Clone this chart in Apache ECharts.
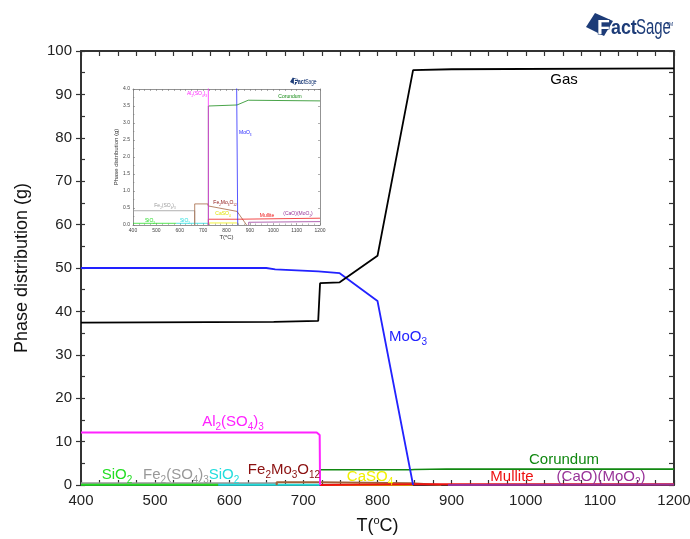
<!DOCTYPE html>
<html><head><meta charset="utf-8">
<script src="https://cdn.jsdelivr.net/npm/echarts@6/dist/echarts.min.js"></script>
<style>html,body{margin:0;padding:0;background:#fff}#c{width:690px;height:539px}</style>
</head><body><div id="c"></div>
<script>
// ---- data (T in °C, phase amount in g) ----
const xTickLabels = [400, 500, 600, 700, 800, 900, 1000, 1100, 1200];
const yTickLabels = [0, 10, 20, 30, 40, 50, 60, 70, 80, 90, 100];
const insetYTickLabels = [0.0, 0.5, 1.0, 1.5, 2.0, 2.5, 3.0, 3.5, 4.0];

const gas       = [[400,37.4],[660,37.6],[720,37.8],[722.5,46.5],[749,46.7],[800,52.8],[848,95.6],[900,95.8],[1200,96.0]];
const moo3      = [[400,50.0],[650,50.0],[651,49.7],[662,49.7],[663,49.3],[720,49.2],[749,48.8],[800,42.4],[848,0]];
const al2so43   = [[400,12.1],[718,12.1],[722,11.5],[722.5,0]];
const corundum  = [[722.5,0],[722.5,3.5],[845,3.53],[850,3.56],[893,3.67],[1200,3.65]];
const fe2so43   = [[400,0.42],[664,0.42],[664,0]];
const fe2mo3o12 = [[664,0],[664,0.62],[720,0.62],[722,0.56],[845,0.4],[886,0]];
const sio2a     = [[400,0.05],[585,0.05]];
const sio2b     = [[585,0.05],[720,0.05],[722,0]];
const caso4     = [[722.5,0],[722.5,0.06],[848,0.06],[848,0]];
const mullite   = [[722.5,0],[722.5,0.17],[850,0.17],[1200,0.2]];
const caomoo2   = [[895,0],[895,0.08],[1200,0.1]];

const FONT = 'Liberation Sans, Arial, sans-serif';
const phases = [
  {name:'Fe2(SO4)3', data:fe2so43, color:'#999999', w:2},
  {name:'SiO2 a', data:sio2a, color:'#22dd22', w:2},
  {name:'SiO2 b', data:sio2b, color:'#22dddd', w:2},
  {name:'Fe2Mo3O12', data:fe2mo3o12, color:'#a0603a', w:2},
  {name:'CaSO4', data:caso4, color:'#f0f000', w:2},
  {name:'Mullite', data:mullite, color:'#ee1111', w:2},
  {name:'(CaO)(MoO2)', data:caomoo2, color:'#993399', w:2},
  {name:'Corundum', data:corundum, color:'#118811', w:1.6},
  {name:'Al2(SO4)3', data:al2so43, color:'#ff22ff', w:2},
  {name:'MoO3', data:moo3, color:'#2222ff', w:1.8},
  {name:'Gas', data:gas, color:'#000000', w:1.8}
];

const series = [];
phases.forEach(p => {
  series.push({type:'line', name:p.name, data:p.data, xAxisIndex:0, yAxisIndex:0, symbol:'none',
    lineStyle:{color:p.color, width:p.w}, silent:true, animation:false, z:3});
  series.push({type:'line', name:p.name+' inset', data:p.data, xAxisIndex:2, yAxisIndex:3, symbol:'none',
    lineStyle:{color:p.color, width:0.9, opacity:0.85}, silent:true, animation:false, z:3, clip:true});
});

const AX = '#333';
function richLabel(x, y, text, color, size, align) {
  const s = size;
  return {type:'text', x:x, y:y, z:20, silent:true,
    style:{text:text, fill:color, align:align||'center', verticalAlign:'middle',
      rich:{
        n:{fontSize:s, fontFamily:FONT, fill:color, lineHeight:Math.round(s*1.3)},
        s:{fontSize:Math.round(s*0.65), fontFamily:FONT, fill:color, lineHeight:Math.round(s*0.65), verticalAlign:'bottom'}
      }}};
}
function logo(x, y, sc) {
  const navy = '#1d3c78';
  return {type:'group', x:x, y:y, scaleX:sc, scaleY:sc, silent:true, z:20, children:[
    {type:'polygon', shape:{points:[[0,16],[9,2],[27,10],[18,25]]}, style:{fill:navy}},
    {type:'text', x:11, y:28, style:{text:'F', fill:'#ffffff', font:'bold 21px '+FONT, align:'left', verticalAlign:'bottom', stroke:navy, lineWidth:1.2}},
    {type:'text', x:25, y:28, scaleX:0.85, style:{text:'act', fill:navy, font:'bold 21px '+FONT, align:'left', verticalAlign:'bottom'}},
    {type:'text', x:50, y:28, scaleX:0.68, style:{text:'Sage', fill:navy, font:'22px '+FONT, align:'left', verticalAlign:'bottom'}},
    {type:'text', x:80, y:14, style:{text:'TM', fill:navy, font:'5px '+FONT, align:'left', verticalAlign:'middle'}}
  ]};
}

const graphic = [
  logo(586, 11, 1),
  logo(290, 77, 0.31),
  richLabel(564, 80, '{n|Gas}', '#000', 15),
  richLabel(389, 337, '{n|MoO}{s|3}', '#2222ff', 15, 'left'),
  richLabel(233, 422, '{n|Al}{s|2}{n|(SO}{s|4}{n|)}{s|3}', '#ff22ff', 15),
  richLabel(564, 460, '{n|Corundum}', '#118811', 15),
  richLabel(117, 475, '{n|SiO}{s|2}', '#22dd22', 15),
  richLabel(176, 475, '{n|Fe}{s|2}{n|(SO}{s|4}{n|)}{s|3}', '#999999', 15),
  richLabel(224, 475, '{n|SiO}{s|2}', '#22dddd', 15),
  richLabel(284, 470, '{n|Fe}{s|2}{n|Mo}{s|3}{n|O}{s|12}', '#8b1010', 15),
  richLabel(370, 477, '{n|CaSO}{s|4}', '#f0f000', 15),
  richLabel(512, 477, '{n|Mullite}', '#ee1111', 15),
  richLabel(601, 477, '{n|(CaO)(MoO}{s|2}{n|)}', '#993399', 15),
  // inset labels
  richLabel(207, 94, '{n|Al}{s|2}{n|(SO}{s|4}{n|)}{s|3}', '#ff22ff', 5, 'right'),
  richLabel(290, 97, '{n|Corundum}', '#118811', 5),
  richLabel(239, 133, '{n|MoO}{s|3}', '#2222ff', 5, 'left'),
  richLabel(165, 206, '{n|Fe}{s|2}{n|(SO}{s|4}{n|)}{s|3}', '#999999', 5),
  richLabel(225, 203, '{n|Fe}{s|2}{n|Mo}{s|3}{n|O}{s|12}', '#8b1010', 5),
  richLabel(223, 214, '{n|CaSO}{s|4}', '#e0e000', 5),
  richLabel(267, 216, '{n|Mullite}', '#ee1111', 5),
  richLabel(298, 214, '{n|(CaO)(MoO}{s|2}{n|)}', '#993399', 5),
  richLabel(150, 221, '{n|SiO}{s|2}', '#22dd22', 5),
  richLabel(185, 221, '{n|SiO}{s|2}', '#22dddd', 5)
];

const xMin = xTickLabels[0], xMax = xTickLabels[xTickLabels.length-1];
const yMin = yTickLabels[0], yMax = yTickLabels[yTickLabels.length-1];
const iyMax = insetYTickLabels[insetYTickLabels.length-1];
const IAX = '#777';
const plain = v => String(v);

const option = {
  backgroundColor:'#fff',
  animation:false,
  grid:[
    {left:81, right:16, top:51, bottom:54, outerBoundsMode:'none', containLabel:false},
    {left:133, top:89, width:187, height:136, outerBoundsMode:'none', containLabel:false}
  ],
  xAxis:[
    {gridIndex:0, type:'value', position:'bottom', min:xMin, max:xMax, interval:100,
      name:'{a|T(}{b|o}{a|C)}', nameLocation:'middle', nameGap:30,
      nameTextStyle:{rich:{a:{fontSize:18, fontFamily:FONT, color:'#111', lineHeight:22}, b:{fontSize:11, fontFamily:FONT, color:'#111', lineHeight:11, verticalAlign:'top'}}},
      axisLine:{show:true, onZero:false, lineStyle:{color:AX, width:2}},
      axisTick:{show:true, inside:true, length:5, lineStyle:{color:AX, width:1.2}},
      minorTick:{show:true, splitNumber:4, length:5, lineStyle:{color:AX, width:1.2}},
      axisLabel:{fontSize:15, fontFamily:FONT, color:'#222', margin:8, formatter:plain, hideOverlap:false},
      splitLine:{show:false}},
    {gridIndex:0, type:'value', position:'top', min:xMin, max:xMax, interval:25,
      axisLine:{show:true, onZero:false, lineStyle:{color:AX, width:2}},
      axisTick:{show:true, inside:true, length:5, lineStyle:{color:AX, width:1.2}},
      axisLabel:{show:false}, splitLine:{show:false}},
    {gridIndex:1, type:'value', position:'bottom', min:xMin, max:xMax, interval:100,
      name:'{a|T(}{b|o}{a|C)}', nameLocation:'middle', nameGap:9,
      nameTextStyle:{rich:{a:{fontSize:6, fontFamily:FONT, color:'#333', lineHeight:7}, b:{fontSize:4, fontFamily:FONT, color:'#333', lineHeight:4, verticalAlign:'top'}}},
      axisLine:{show:true, onZero:false, lineStyle:{color:IAX, width:0.8}},
      axisTick:{show:true, inside:true, length:2, lineStyle:{color:IAX, width:0.6}},
      minorTick:{show:true, splitNumber:4, length:1.5, lineStyle:{color:IAX, width:0.5}},
      axisLabel:{fontSize:5, fontFamily:FONT, color:'#444', margin:3, formatter:plain},
      splitLine:{show:false}},
    {gridIndex:1, type:'value', position:'top', min:xMin, max:xMax, interval:25,
      axisLine:{show:true, onZero:false, lineStyle:{color:IAX, width:0.8}},
      axisTick:{show:true, inside:true, length:2, lineStyle:{color:IAX, width:0.6}},
      axisLabel:{show:false}, splitLine:{show:false}}
  ],
  yAxis:[
    {gridIndex:0, type:'value', position:'left', min:yMin, max:yMax, interval:10,
      name:'Phase distribution (g)', nameLocation:'middle', nameGap:50,
      nameTextStyle:{fontSize:18, fontFamily:FONT, color:'#111'},
      axisLine:{show:true, onZero:false, lineStyle:{color:AX, width:2}},
      axisTick:{show:true, inside:false, length:5, lineStyle:{color:AX, width:1.2}},
      axisLabel:{fontSize:15, fontFamily:FONT, color:'#222', margin:9, formatter:plain},
      splitLine:{show:false}},
    {gridIndex:0, type:'value', position:'left', min:yMin, max:yMax, interval:5,
      axisLine:{show:false},
      axisTick:{show:true, inside:true, length:4, lineStyle:{color:AX, width:1.2}},
      axisLabel:{show:false}, splitLine:{show:false}},
    {gridIndex:0, type:'value', position:'right', min:yMin, max:yMax, interval:5,
      axisLine:{show:true, onZero:false, lineStyle:{color:AX, width:2}},
      axisTick:{show:true, inside:true, length:5, lineStyle:{color:AX, width:1.2}},
      axisLabel:{show:false}, splitLine:{show:false}},
    {gridIndex:1, type:'value', position:'left', min:0, max:iyMax, interval:0.5,
      name:'Phase distribution (g)', nameLocation:'middle', nameGap:13,
      nameTextStyle:{fontSize:6, fontFamily:FONT, color:'#333'},
      axisLine:{show:true, onZero:false, lineStyle:{color:IAX, width:0.8}},
      axisTick:{show:true, inside:true, length:2, lineStyle:{color:IAX, width:0.6}},
      minorTick:{show:true, splitNumber:2, length:1.5, lineStyle:{color:IAX, width:0.5}},
      axisLabel:{fontSize:5, fontFamily:FONT, color:'#444', margin:3, formatter:v=>v.toFixed(1)},
      splitLine:{show:false}},
    {gridIndex:1, type:'value', position:'right', min:0, max:iyMax, interval:0.5,
      axisLine:{show:true, onZero:false, lineStyle:{color:IAX, width:0.8}},
      axisTick:{show:true, inside:true, length:2, lineStyle:{color:IAX, width:0.6}},
      axisLabel:{show:false}, splitLine:{show:false}}
  ],
  series: series,
  graphic: graphic
};
const chart = echarts.init(document.getElementById('c'), null, {renderer:'canvas'});
chart.setOption(option);
</script>
</body></html>
